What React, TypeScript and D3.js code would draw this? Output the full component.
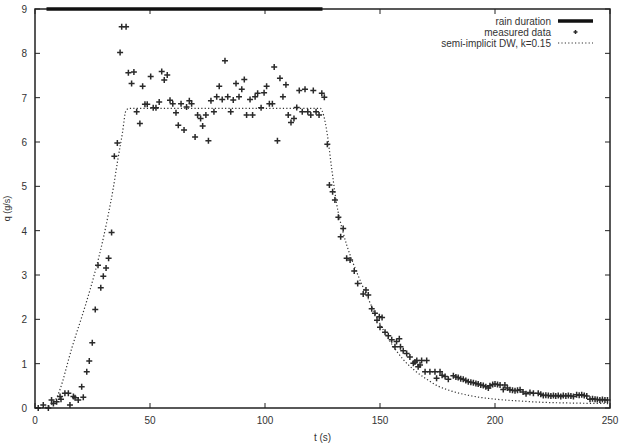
import React from 'react';
import * as d3 from 'd3';
import { useEffect, useRef } from 'react';

// measured discharge
const measuredTime = [
  1.4, 3.6, 5.8, 7.2, 8, 9.4, 10.9, 11.3, 13, 14.5, 15.2, 16.7, 17.4, 18.8, 20.3, 21, 22.5, 23.6, 24.9, 26.2,
  27.4, 28.6, 29.7, 30.9, 32, 33.3, 34.5, 35.8, 37, 37.7, 39.6, 40.6, 42, 43, 44.2, 45.6, 46.8, 47.8, 48.8, 50.3,
  51.4, 52.6, 54, 55.1, 56.2, 57.5, 58.7, 59.9, 61.3, 62.3, 63.5, 64.8, 65.9, 67.1, 68.1, 69.6, 70.7, 72, 72.9, 74.3,
  75.4, 76.5, 77.8, 79, 80.1, 81.4, 82.6, 83.8, 85.1, 86.2, 87.4, 88.7, 89.9, 91, 92, 93.5, 94.6, 95.7, 96.8, 98.3,
  99.6, 100.7, 101.9, 103.2, 104, 105.4, 106.5, 107.8, 109.1, 110.1, 111.3, 112.6, 113.8, 114.9, 116.2, 117.4, 118.6, 119.9, 121, 122.2,
  123.5, 124.7, 125.8, 127.1, 128, 129.4, 130.4, 131.9, 132.9, 134, 135.5, 137, 138.8, 140.3, 142.7, 143.9, 144.9, 146.4, 147.8, 148.7,
  149.7, 150, 150.9, 152.2, 153.6, 155.1, 156.5, 157.2, 158.4, 158.9, 160.1, 161.6, 163, 164.5, 165.2, 166, 166.6, 167.4, 168.1, 169.6,
  170.3, 171.7, 173.9, 174.6, 176.1, 177, 178.3, 179.7, 181.9, 183, 184, 185.1, 186.2, 187.3, 188.4, 189.5, 190.6, 191.7, 192.7, 193.8,
  194.9, 196, 197.1, 197.8, 199, 200, 201.1, 202.2, 203.6, 204.3, 205.4, 206.5, 207.6, 208.7, 209.8, 210.9, 212.2, 213.5, 215.2, 216.7,
  218.8, 219.9, 221, 222.1, 223.2, 224.3, 225.4, 226.4, 227.5, 228.6, 229.7, 230.8, 231.9, 233, 234.1, 235.5, 236.6, 237.7, 238.8, 239.9,
  241.3, 242.4, 243.5, 244.5, 245.6, 246.7, 247.8, 248.9,
];
const measuredQ = [
  0, 0.07, 0, 0.18, 0.1, 0.14, 0.26, 0.2, 0.33, 0.33, 0.07, 0.26, 0.23, 0.18, 0.48, 0.24, 0.82, 1.06, 1.47, 2.22,
  3.22, 2.71, 2.97, 3.16, 3.38, 3.96, 5.68, 5.98, 8.02, 8.6, 8.6, 7.56, 7.32, 7.58, 6.68, 6.42, 7.26, 6.85, 6.85, 7.48,
  6.77, 6.77, 6.9, 7.59, 7.4, 7.51, 6.94, 6.86, 6.66, 6.38, 6.86, 6.27, 6.79, 6.93, 6.86, 6.11, 6.61, 6.53, 6.36, 6.61,
  6.03, 6.93, 6.68, 7.02, 7.26, 6.96, 7.83, 7.02, 6.68, 6.95, 7.32, 7.02, 7.19, 7.41, 6.61, 6.96, 6.61, 7.02, 7.1, 6.77,
  7.11, 7.26, 6.86, 6.86, 7.69, 6.03, 7.44, 7.02, 7.29, 6.61, 6.44, 6.53, 6.78, 7.16, 6.68, 7.19, 6.68, 6.61, 7.16, 6.68,
  6.61, 7.1, 7.01, 5.95, 5.03, 4.88, 4.69, 4.3, 3.86, 4.05, 3.38, 3.34, 3.09, 2.81, 2.57, 2.66, 2.55, 2.24, 2.14, 1.98,
  2.06, 1.82, 2.04, 1.71, 1.63, 1.54, 1.38, 1.5, 1.56, 1.38, 1.29, 1.23, 1.15, 1.01, 1.04, 1.07, 0.93, 0.97, 1.07, 0.82,
  1.07, 0.82, 0.82, 0.67, 0.82, 0.74, 0.71, 0.65, 0.73, 0.7, 0.69, 0.66, 0.65, 0.62, 0.59, 0.58, 0.57, 0.55, 0.54, 0.52,
  0.51, 0.48, 0.45, 0.5, 0.53, 0.54, 0.53, 0.52, 0.42, 0.52, 0.45, 0.41, 0.4, 0.39, 0.4, 0.41, 0.36, 0.32, 0.35, 0.33,
  0.33, 0.31, 0.28, 0.29, 0.28, 0.27, 0.28, 0.27, 0.28, 0.26, 0.28, 0.27, 0.28, 0.27, 0.26, 0.3, 0.29, 0.3, 0.28, 0.27,
  0.2, 0.21, 0.2, 0.19, 0.18, 0.19, 0.18, 0.18,
];

// semi-implicit diffusive wave model curve
const modelTime = [
  0, 4, 6, 8, 10, 12, 14, 16, 18, 20, 22, 24, 26, 28, 30, 32, 34, 36, 38, 39.5,
  41, 124, 125.5, 127, 129, 131, 134, 137, 140, 145, 150, 155, 160, 165, 170, 175, 180, 190, 200, 210,
  220, 235, 250,
];
const modelQ = [
  0, 0.01, 0.04, 0.12, 0.3, 0.6, 0.98, 1.35, 1.68, 2.0, 2.33, 2.68, 3.05, 3.45, 3.9, 4.4, 4.95, 5.6, 6.2, 6.7,
  6.76, 6.76, 6.6, 6.2, 5.4, 4.65, 3.95, 3.45, 3.05, 2.45, 1.9, 1.45, 1.1, 0.85, 0.66, 0.5, 0.4, 0.27, 0.2, 0.16,
  0.13, 0.11, 0.1,
];

// rain event
const rainStart = 5;
const rainEnd = 125;

const xTicks = [0, 50, 100, 150, 200, 250];
const yTicks = [0, 1, 2, 3, 4, 5, 6, 7, 8, 9];
const legendLabels = ['rain duration', 'measured data', 'semi-implicit DW, k=0.15'];

const width = 620;
const height = 448;
const margin = { top: 9, right: 10, bottom: 40, left: 35 };

const App = () => {
  const chartRef = useRef<SVGSVGElement | null>(null);

  useEffect(() => {
    const svg = d3.select(chartRef.current);
    svg.selectAll('*').remove();

    const font = '"Liberation Sans", Arial, sans-serif';
    const ink = '#222';

    const xScale = d3.scaleLinear().domain([0, 250]).range([margin.left, width - margin.right]);
    const yScale = d3.scaleLinear().domain([0, 9]).range([height - margin.bottom, margin.top]);
    const x0 = xScale(0), x1 = xScale(250), y0 = yScale(0), y1 = yScale(9);

    svg.append('rect')
      .attr('width', width).attr('height', height).attr('fill', 'white');

    // ticks (gnuplot style, inward, mirrored)
    const ticks = svg.append('g').attr('stroke', ink).attr('stroke-width', 1);
    xTicks.forEach((t) => {
      ticks.append('line').attr('x1', xScale(t)).attr('x2', xScale(t)).attr('y1', y0).attr('y2', y0 - 5);
      ticks.append('line').attr('x1', xScale(t)).attr('x2', xScale(t)).attr('y1', y1).attr('y2', y1 + 5);
    });
    yTicks.forEach((t) => {
      ticks.append('line').attr('x1', x0).attr('x2', x0 + 5).attr('y1', yScale(t)).attr('y2', yScale(t));
      ticks.append('line').attr('x1', x1).attr('x2', x1 - 5).attr('y1', yScale(t)).attr('y2', yScale(t));
    });

    svg.selectAll('.xlab')
      .data(xTicks)
      .enter()
      .append('text')
      .attr('x', (d) => xScale(d))
      .attr('y', y0 + 16)
      .attr('text-anchor', 'middle')
      .style('font-family', font)
      .style('font-size', '10px')
      .attr('fill', '#333')
      .text((d) => d);

    svg.selectAll('.ylab')
      .data(yTicks)
      .enter()
      .append('text')
      .attr('x', x0 - 8)
      .attr('y', (d) => yScale(d) + 4)
      .attr('text-anchor', 'end')
      .style('font-family', font)
      .style('font-size', '10px')
      .attr('fill', '#333')
      .text((d) => d);

    svg.append('text')
      .attr('x', (x0 + x1) / 2)
      .attr('y', 441)
      .attr('text-anchor', 'middle')
      .style('font-family', font)
      .style('font-size', '10px')
      .attr('fill', '#333')
      .text('t (s)');

    svg.append('text')
      .attr('transform', `translate(10, ${(y0 + y1) / 2}) rotate(-90)`)
      .attr('text-anchor', 'middle')
      .style('font-family', font)
      .style('font-size', '9px')
      .attr('fill', '#333')
      .text('q (g/s)');

    // model curve
    const line = d3.line<number>()
      .x((d, i) => xScale(modelTime[i]))
      .y((d) => yScale(d))
      .curve(d3.curveMonotoneX);
    svg.append('path')
      .attr('d', line(modelQ))
      .attr('fill', 'none')
      .attr('stroke', '#333')
      .attr('stroke-width', 1.2)
      .attr('stroke-dasharray', '1.2,2.2');

    // measured points
    const plus = (g: d3.Selection<SVGGElement, unknown, null, undefined>, cx: number, cy: number, r = 3) => {
      g.append('path')
        .attr('d', `M${cx - r},${cy}H${cx + r}M${cx},${cy - r}V${cy + r}`)
        .attr('stroke', '#2a2a2a')
        .attr('stroke-width', 1.5);
    };
    const pts = svg.append('g');
    measuredQ.forEach((q, i) => plus(pts, xScale(measuredTime[i]), yScale(q)));

    // border
    svg.append('rect')
      .attr('x', x0).attr('y', y1)
      .attr('width', x1 - x0).attr('height', y0 - y1)
      .attr('fill', 'none')
      .attr('stroke', ink)
      .attr('stroke-width', 1.5);

    // rain duration bar
    svg.append('line')
      .attr('x1', xScale(rainStart)).attr('x2', xScale(rainEnd))
      .attr('y1', yScale(9)).attr('y2', yScale(9))
      .attr('stroke', '#111')
      .attr('stroke-width', 3.5);

    // legend
    const legend = svg.append('g');
    legendLabels.forEach((label, i) => {
      const ly = 21 + i * 11;
      legend.append('text')
        .attr('x', 551)
        .attr('y', ly + 3.5)
        .attr('text-anchor', 'end')
        .style('font-family', font)
        .style('font-size', '10px')
        .attr('fill', '#333')
        .text(label);
    });
    legend.append('line')
      .attr('x1', 558).attr('x2', 593).attr('y1', 21).attr('y2', 21)
      .attr('stroke', '#111').attr('stroke-width', 3.5);
    plus(legend, 575.5, 32, 2);
    legend.append('line')
      .attr('x1', 558).attr('x2', 593).attr('y1', 43).attr('y2', 43)
      .attr('stroke', '#333').attr('stroke-width', 1.2)
      .attr('stroke-dasharray', '1.2,2.2');
  }, []);

  return (
    <svg ref={chartRef} width={width} height={height}
      style={{ position: 'absolute', left: 0, top: 0 }}></svg>
  );
};

export default App;
